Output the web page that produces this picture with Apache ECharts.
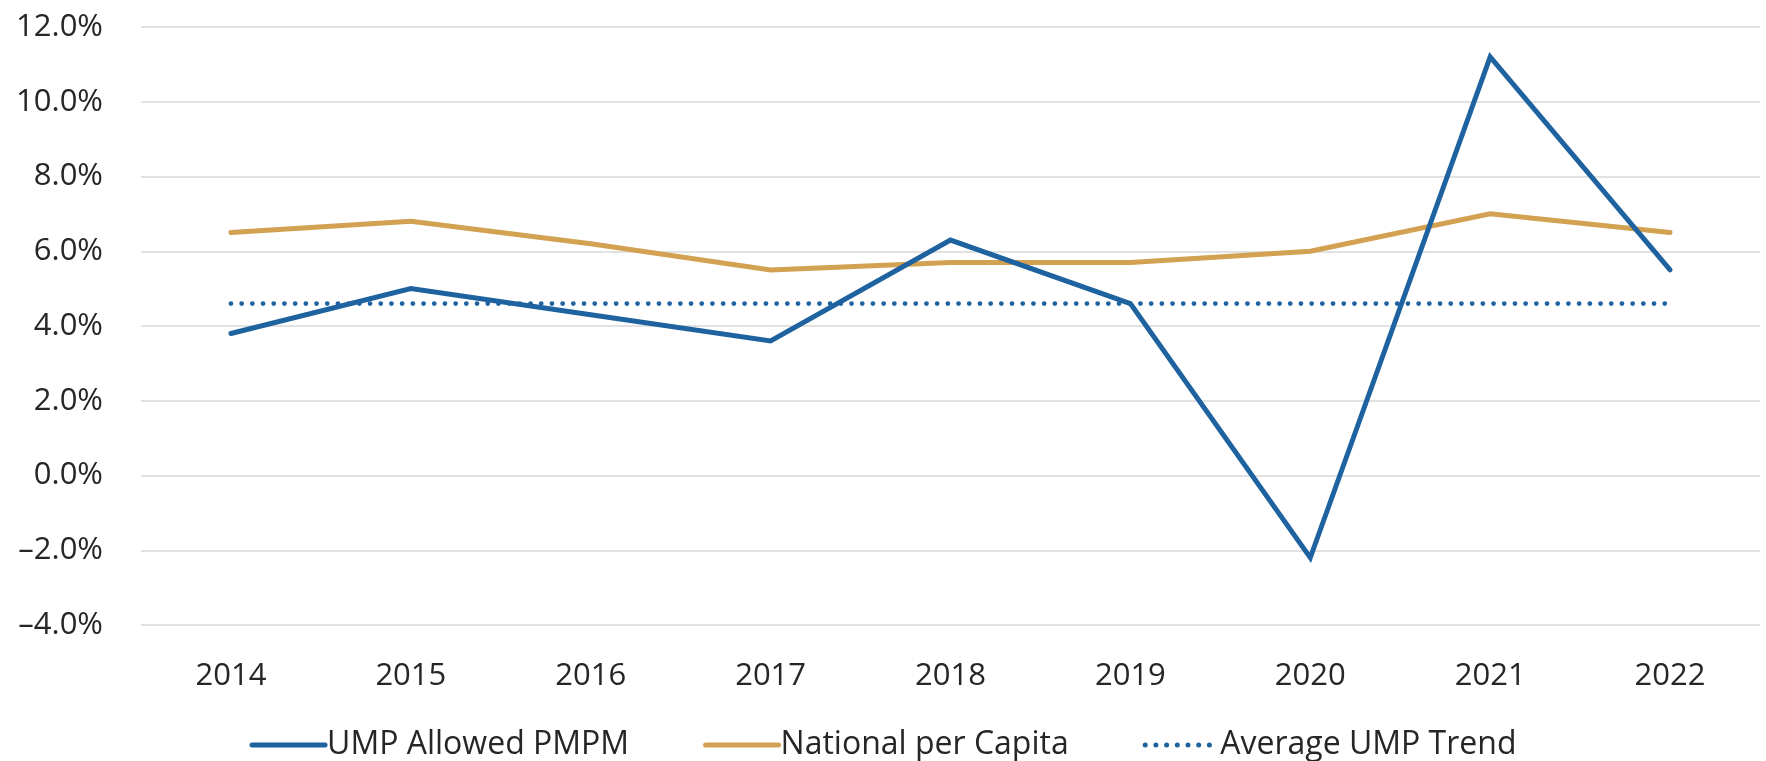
<!DOCTYPE html>
<html>
<head>
<meta charset="utf-8">
<script src="https://cdn.jsdelivr.net/npm/echarts@6/dist/echarts.min.js"></script>
<style>
  html, body { margin: 0; padding: 0; background: #ffffff; }
  #chart { width: 1766px; height: 761px; }
</style>
</head>
<body>
<div id="chart"></div>
<script>
// Annual trend, percent
const years = ['2014', '2015', '2016', '2017', '2018', '2019', '2020', '2021', '2022'];
const umpAllowedPmpm = [3.8, 5.0, 4.3, 3.6, 6.3, 4.6, -2.2, 11.2, 5.5];
const nationalPerCapita = [6.5, 6.8, 6.2, 5.5, 5.7, 5.7, 6.0, 7.0, 6.5];
const averageUmpTrend = [4.6, 4.6, 4.6, 4.6, 4.6, 4.6, 4.6, 4.6, 4.6];

const seriesNames = ['UMP Allowed PMPM', 'National per Capita', 'Average UMP Trend'];
const BLUE = '#1e63a0';
const GOLD = '#d2a151';
const TEXT = '#262626';
const FONT = '"Open Sans", "DejaVu Sans", sans-serif';

const chart = echarts.init(document.getElementById('chart'), null, { renderer: 'canvas' });

chart.setOption({
  animation: false,
  backgroundColor: '#ffffff',
  grid: { left: 141, right: 6, top: 27, bottom: 136, containLabel: false },
  legend: {
    data: seriesNames,
    bottom: -5,
    left: 'center',
    itemWidth: 73,
    itemHeight: 14,
    itemGap: 74,
    itemStyle: { opacity: 0 },
    lineStyle: { width: 5, cap: 'round' },
    textStyle: { color: TEXT, fontFamily: FONT, fontSize: 32, padding: [0, 0, 0, -3] }
  },
  xAxis: {
    type: 'category',
    data: years,
    boundaryGap: true,
    axisLine: { show: false },
    axisTick: { show: false },
    axisLabel: { color: TEXT, fontFamily: FONT, fontSize: 31, margin: 36 }
  },
  yAxis: {
    type: 'value',
    min: -4,
    max: 12,
    interval: 2,
    axisLine: { show: false },
    axisTick: { show: false },
    splitLine: { lineStyle: { color: '#d9d9d9', width: 1.5 } },
    axisLabel: {
      color: TEXT,
      fontFamily: FONT,
      fontSize: 31,
      margin: 38,
      formatter: v => (v < 0 ? '\u2013' + Math.abs(v).toFixed(1) : v.toFixed(1)) + '%'
    }
  },
  series: [
    {
      name: seriesNames[0],
      type: 'line',
      data: umpAllowedPmpm,
      symbol: 'none',
      z: 3,
      lineStyle: { color: BLUE, width: 5, cap: 'round', join: 'miter' },
      itemStyle: { color: BLUE }
    },
    {
      name: seriesNames[1],
      type: 'line',
      data: nationalPerCapita,
      symbol: 'none',
      z: 2,
      lineStyle: { color: GOLD, width: 5, cap: 'round', join: 'miter' },
      itemStyle: { color: GOLD }
    },
    {
      name: seriesNames[2],
      type: 'line',
      data: averageUmpTrend,
      symbol: 'none',
      z: 1,
      lineStyle: { color: BLUE, width: 4.8, type: [0, 10.7], cap: 'round' },
      itemStyle: { color: BLUE }
    }
  ]
});
</script>
</body>
</html>
